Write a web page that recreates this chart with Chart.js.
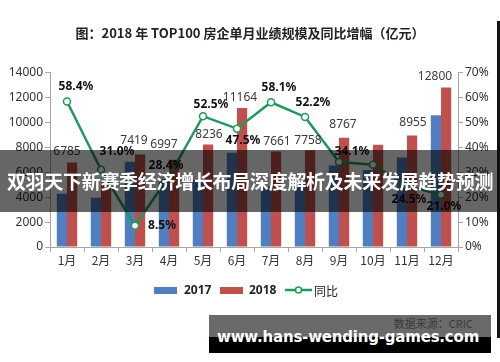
<!DOCTYPE html>
<html>
<head>
<meta charset="utf-8">
<script src="https://cdn.jsdelivr.net/npm/chart.js@4.4.1/dist/chart.umd.min.js"></script>
<style>
  html, body { margin: 0; padding: 0; background: #fff; }
  #wrap { position: relative; width: 500px; height: 362px; overflow: hidden; }
  #myChart { position: absolute; left: 0; top: 0; }
  .banner { position: absolute; left: 0; top: 150px; width: 500px; height: 62px; background: rgba(0,0,0,0.6);
    color: #fff; font: bold 19px "Noto Sans CJK SC", sans-serif; text-align: center; line-height: 62px; white-space: nowrap; letter-spacing: -0.3px; }
  .mark { position: absolute; left: 209px; top: 315px; width: 282px; height: 38px; background: linear-gradient(#6a6a6a 0, #6a6a6a 22px, #000 22px); }
  .source { position: absolute; right: 18px; top: 2px; font: 11px/12px "Noto Sans CJK SC", sans-serif; color: #3a3a3a; }
  .url { position: absolute; left: 8px; top: 14px; font: bold 15px/16px "DejaVu Sans", sans-serif; color: #fff; letter-spacing: -0.2px; white-space: nowrap; }
  .edge { position: absolute; left: 497px; top: 21px; width: 3px; height: 317px; background: #111; }
</style>
</head>
<body>
<div id="wrap">
  <canvas id="myChart" width="500" height="362"></canvas>
  <div class="banner">双羽天下新赛季经济增长布局深度解析及未来发展趋势预测</div>
  <div class="mark"><span class="source">数据来源：CRIC</span><span class="url">www.hans-wending-games.com</span></div>
  <div class="edge"></div>
</div>
<script>
const months = ['1月', '2月', '3月', '4月', '5月', '6月', '7月', '8月', '9月', '10月', '11月', '12月']
const sales2017 = [4283, 3950, 6838, 5449, 5401, 7569, 4846, 5097, 6538, 6175, 7193, 10579]
const sales2018 = [6785, 5175, 7419, 6997, 8236, 11164, 7661, 7758, 8767, 8213, 8955, 12800]
const yoyGrowth = [58.4, 31.0, 8.5, 28.4, 52.5, 47.5, 58.1, 52.2, 34.1, 33.0, 24.5, 21.0]
const leftTicks = [0, 2000, 4000, 6000, 8000, 10000, 12000, 14000]
const rightTicks = [0, 10, 20, 30, 40, 50, 60, 70]

// labels hidden under the banner in the original
const hiddenBarLabels = [1, 9]
const hiddenLineLabels = [9]

// where the value labels sit, relative to bar top / point
const barLabelShift = [[0,-11],[0,-12],[-1,-14],[-5,-15],[6,-10],[3,-10],[6,-10],[3,-10],[4,-13],[5,-13],[6,-13],[-6,-11]]
const lineLabelShift = [[9,-15],[16,-18],[27,0],[-3,-11],[8,-12],[6,12],[8,-15],[8,-14],[13,-10],[0,0],[2,14],[3,12]]

const blue = '#4f7fc0'
const red = '#c0504d'
const green = '#1f9a5c'
const axisGray = '#a6a6a6'
const cjk = '"Noto Sans CJK SC", "Noto Sans", sans-serif'

let valueLabels = {
  id: 'valueLabels',
  afterDatasetsDraw(chart) {
    const ctx = chart.ctx
    const x = chart.scales.x
    ctx.save()
    ctx.textAlign = 'center'
    ctx.textBaseline = 'middle'

    ctx.font = '12px "Noto Sans", sans-serif'
    ctx.fillStyle = '#3a3a3a'
    chart.getDatasetMeta(1).data.forEach((bar, i) => {
      if (hiddenBarLabels.includes(i)) return
      ctx.fillText(sales2018[i], x.getPixelForValue(i) + barLabelShift[i][0], bar.y + barLabelShift[i][1])
    })

    ctx.font = 'bold 12px "Noto Sans", sans-serif'
    ctx.fillStyle = '#111'
    chart.getDatasetMeta(2).data.forEach((pt, i) => {
      if (hiddenLineLabels.includes(i)) return
      ctx.fillText(yoyGrowth[i].toFixed(1) + '%', pt.x + lineLabelShift[i][0], pt.y + lineLabelShift[i][1])
    })
    ctx.restore()
  },
  afterDraw(chart) {
    // legend drawn by hand so the line item shows a marker on a line
    const ctx = chart.ctx
    const y = 290
    ctx.save()
    ctx.textBaseline = 'middle'
    ctx.fillStyle = blue
    ctx.fillRect(154, y - 3, 23, 7)
    ctx.fillStyle = red
    ctx.fillRect(220, y - 3, 23, 7)
    ctx.fillStyle = '#222'
    ctx.font = 'bold 12px "Noto Sans", sans-serif'
    ctx.fillText('2017', 184, y + 1)
    ctx.fillText('2018', 249, y + 1)
    ctx.strokeStyle = green
    ctx.lineWidth = 2.5
    ctx.beginPath()
    ctx.moveTo(285, y)
    ctx.lineTo(312, y)
    ctx.stroke()
    ctx.beginPath()
    ctx.arc(298.5, y, 3, 0, Math.PI * 2)
    ctx.fillStyle = '#fff'
    ctx.fill()
    ctx.lineWidth = 1.5
    ctx.stroke()
    ctx.fillStyle = '#222'
    ctx.font = '12px ' + cjk
    ctx.fillText('同比', 314, y + 1)
    ctx.restore()
  }
}

let createChart = () => {
  const ctx = document.getElementById('myChart')
  new Chart(ctx, {
    type: 'bar',
    data: {
      labels: months,
      datasets: [
        { label: '2017', data: sales2017, backgroundColor: blue, yAxisID: 'y', order: 2 },
        { label: '2018', data: sales2018, backgroundColor: red, yAxisID: 'y', order: 2 },
        {
          type: 'line', label: '同比', data: yoyGrowth, yAxisID: 'y1', order: 0,
          borderColor: green, borderWidth: 2.5, tension: 0,
          pointRadius: 3.5, pointBackgroundColor: '#fff', pointBorderColor: green, pointBorderWidth: 1.5
        }
      ]
    },
    plugins: [valueLabels],
    options: {
      responsive: false,
      animation: false,
      categoryPercentage: 0.6,
      barPercentage: 1.0,
      layout: { padding: { top: 0, left: 0, right: 0, bottom: 0 } },
      plugins: {
        legend: { display: false },
        tooltip: { enabled: false },
        title: {
          display: true,
          text: '图：2018 年 TOP100 房企单月业绩规模及同比增幅（亿元）',
          color: '#222',
          font: { family: cjk, size: 13, weight: 'bold' },
          padding: { top: 25, bottom: 32 }
        }
      },
      scales: {
        x: {
          grid: { drawOnChartArea: false, color: axisGray, tickLength: 5, offset: true },
          border: { color: axisGray },
          ticks: { color: '#333', font: { family: cjk, size: 12 }, padding: 1, maxRotation: 0 },
          afterFit: s => { s.height = 115 }
        },
        y: {
          position: 'left',
          min: 0, max: 14000,
          afterBuildTicks: s => { s.ticks = leftTicks.map(v => ({ value: v })) },
          grid: { drawOnChartArea: false, color: axisGray, tickLength: 5 },
          border: { color: axisGray },
          ticks: { color: '#333', font: { family: '"Noto Sans", sans-serif', size: 12 }, padding: 2, callback: v => String(v) },
          afterFit: s => { s.width = 50 }
        },
        y1: {
          position: 'right',
          min: 0, max: 70,
          afterBuildTicks: s => { s.ticks = rightTicks.map(v => ({ value: v })) },
          grid: { drawOnChartArea: false, color: axisGray, tickLength: 5 },
          border: { color: axisGray },
          ticks: { color: '#333', font: { family: '"Noto Sans", sans-serif', size: 12 }, padding: 2, callback: v => v + '%' },
          afterFit: s => { s.width = 42 }
        }
      }
    }
  })
}

createChart()
</script>
</body>
</html>
